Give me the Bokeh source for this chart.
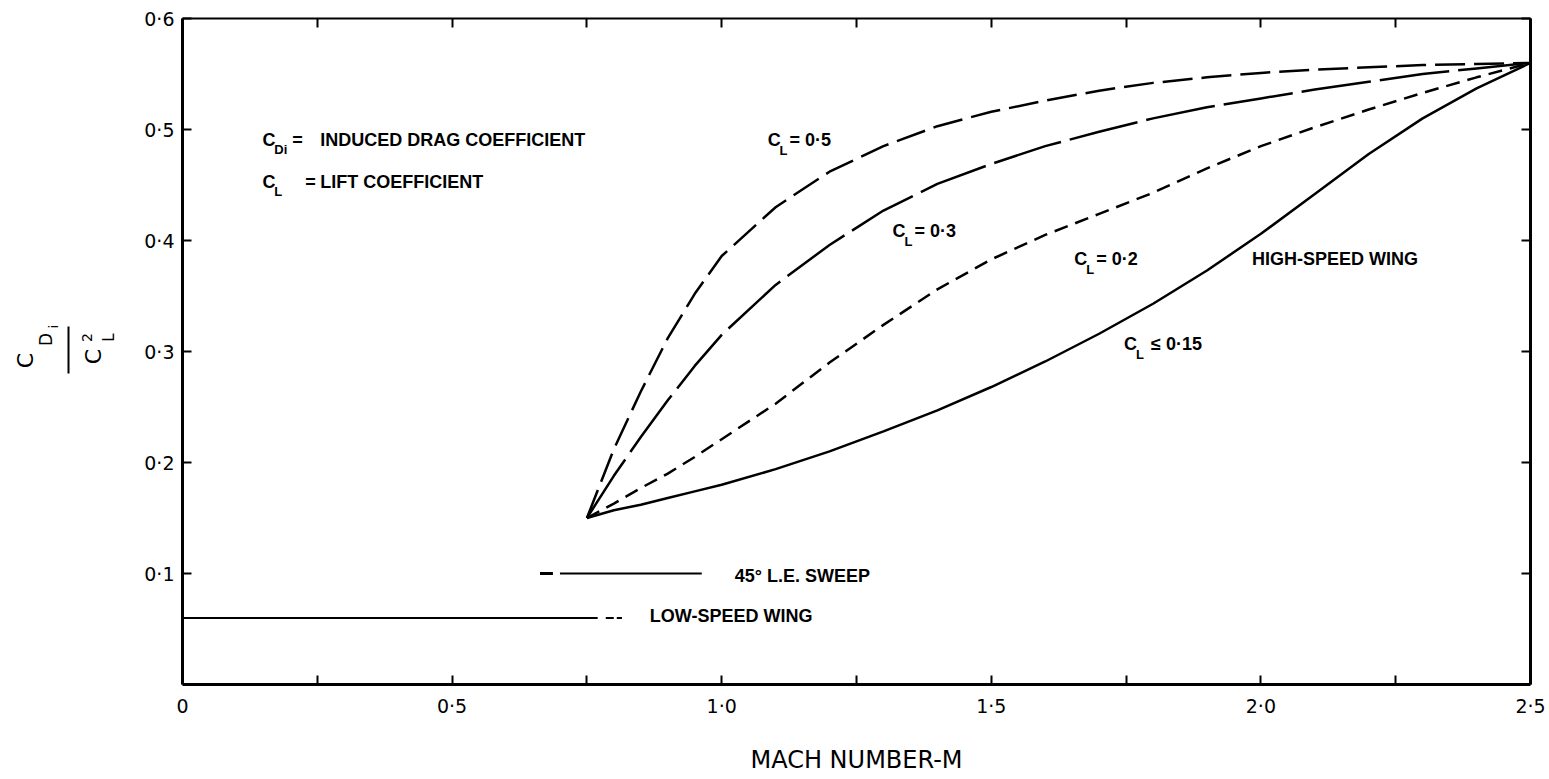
from bokeh.plotting import figure
from bokeh.layouts import row
from bokeh.models import Range1d, LinearAxis, FixedTicker, Label
from bokeh.core.properties import value
from bokeh.embed import file_html
from bokeh.resources import INLINE

# ---- data ----
mach = [0.75, 0.8, 0.85, 0.9, 0.95, 1.0, 1.1, 1.2, 1.3, 1.4, 1.5, 1.6, 1.7,
        1.8, 1.9, 2.0, 2.1, 2.2, 2.3, 2.4, 2.5]
cl_05 = [0.15, 0.212, 0.264, 0.312, 0.352, 0.386, 0.43, 0.462, 0.485, 0.503, 0.516,
         0.526, 0.535, 0.542, 0.547, 0.551, 0.554, 0.556, 0.558, 0.559, 0.56]
cl_03 = [0.15, 0.188, 0.223, 0.256, 0.287, 0.315, 0.36, 0.396, 0.427, 0.451, 0.469,
         0.485, 0.498, 0.51, 0.52, 0.528, 0.536, 0.543, 0.55, 0.555, 0.56]
cl_02 = [0.15, 0.163, 0.177, 0.19, 0.205, 0.221, 0.253, 0.29, 0.324, 0.356, 0.383,
         0.405, 0.424, 0.443, 0.465, 0.485, 0.502, 0.518, 0.533, 0.547, 0.56]
cl_015 = [0.15, 0.157, 0.162, 0.168, 0.174, 0.18, 0.194, 0.21, 0.228, 0.247, 0.268,
          0.291, 0.316, 0.343, 0.373, 0.406, 0.442, 0.478, 0.51, 0.537, 0.56]

low_speed_m = [0.0, 0.77]
low_speed_tail_m = [0.785, 0.815]
low_speed_val = [0.06, 0.06]
sweep_m = [0.70, 0.963]
sweep_lead_m = [0.663, 0.687]
sweep_val = [0.1, 0.1]

x_major = [0, 0.5, 1.0, 1.5, 2.0, 2.5]
x_minor = [0.25, 0.75, 1.25, 1.75, 2.25]
x_tick_labels = ["0", "0·5", "1·0", "1·5", "2·0", "2·5"]
y_ticks = [0.1, 0.2, 0.3, 0.4, 0.5, 0.6]
y_tick_labels = ["0·1", "0·2", "0·3", "0·4", "0·5", "0·6"]

TICKFONT = "DejaVu Sans"
TF = "Liberation Sans"

# ---- main figure ----
p = figure(width=1419, height=779, x_range=Range1d(0, 2.5), y_range=Range1d(0, 0.6),
           output_backend="svg", toolbar_location=None,
           min_border_left=52, min_border_right=19, min_border_top=18, min_border_bottom=95)
p.xgrid.visible = False
p.ygrid.visible = False
p.outline_line_color = None

xa = p.xaxis[0]
xa.ticker = FixedTicker(ticks=x_major, minor_ticks=x_minor)
xa.major_label_overrides = {t: s for t, s in zip(x_major, x_tick_labels)}
xa.major_tick_in = 9
xa.major_tick_out = 0
xa.minor_tick_in = 9
xa.minor_tick_out = 0
xa.axis_line_width = 3
xa.major_tick_line_width = 2
xa.minor_tick_line_width = 2
xa.major_label_text_font = TICKFONT
xa.major_label_text_font_size = "19px"
xa.major_label_text_color = "black"
xa.major_label_standoff = 10
xa.axis_label = "MACH NUMBER-M"
xa.axis_label_text_font = TICKFONT
xa.axis_label_text_font_size = "24px"
xa.axis_label_text_font_style = "normal"
xa.axis_label_text_color = "black"
xa.axis_label_standoff = 26

ya = p.yaxis[0]
ya.ticker = FixedTicker(ticks=y_ticks)
ya.major_label_overrides = {t: s for t, s in zip(y_ticks, y_tick_labels)}
ya.major_tick_in = 9
ya.major_tick_out = 0
ya.minor_tick_line_color = None
ya.axis_line_width = 3
ya.major_tick_line_width = 2
ya.major_label_text_font = TICKFONT
ya.major_label_text_font_size = "19px"
ya.major_label_text_color = "black"
ya.major_label_standoff = 8

top = LinearAxis(ticker=FixedTicker(ticks=[], minor_ticks=x_minor + x_major),
                 minor_tick_in=9, minor_tick_out=0, major_tick_in=0, major_tick_out=0,
                 axis_line_width=2, minor_tick_line_width=2)
right = LinearAxis(ticker=FixedTicker(ticks=[], minor_ticks=y_ticks),
                   minor_tick_in=9, minor_tick_out=0, major_tick_in=0, major_tick_out=0,
                   axis_line_width=3, minor_tick_line_width=2)
p.add_layout(top, "above")
p.add_layout(right, "right")

# ---- curves ----
p.line(mach, cl_05, line_color="black", line_width=2.5, line_dash="30 9")
p.line(mach, cl_03, line_color="black", line_width=2.5, line_dash="70 9")
p.line(mach, cl_02, line_color="black", line_width=2.5, line_dash="14 8")
p.line(mach, cl_015, line_color="black", line_width=2.5)

p.line(low_speed_m, low_speed_val, line_color="black", line_width=2)
p.line(low_speed_tail_m, low_speed_val, line_color="black", line_width=2, line_dash="8 3")
p.line(sweep_m, sweep_val, line_color="black", line_width=2)
p.line(sweep_lead_m, sweep_val, line_color="black", line_width=3)


def X(px):
    return (px - 182) / 540


def Y(py):
    return (684 - py) / 1110


def lab(text, px, py, size=18, align="left", baseline="middle", font=TF, style="bold"):
    p.add_layout(Label(x=X(px), y=Y(py), text=text, text_font=font, text_font_size=f"{size}px",
                       text_font_style=style, text_align=align, text_baseline=baseline,
                       text_color="black"))


# notes
lab("C", 262, 139)
lab("Di", 274, 149, 13)
lab("=", 292, 139)
lab("INDUCED DRAG COEFFICIENT", 320, 139)
lab("C", 262, 181)
lab("L", 274, 191, 13)
lab("=", 305, 181)
lab("LIFT COEFFICIENT", 320, 181)

# curve labels
lab("C", 768, 139)
lab("L", 780, 150, 13)
lab("= 0·5", 790, 139)
lab("C", 893, 230)
lab("L", 905, 241, 13)
lab("= 0·3", 915, 230)
lab("C", 1075, 258)
lab("L", 1087, 269, 13)
lab("= 0·2", 1097, 258)
lab("C", 1125, 343)
lab("L", 1137, 354, 13)
lab("≤ 0·15", 1152, 343)
lab("HIGH-SPEED WING", 1253, 258)
lab("45° L.E. SWEEP", 735, 575)
lab("LOW-SPEED WING", 650, 615)

# ---- left strip carrying the y-axis title (fraction, rotated) ----
# its frame is aligned with the main frame (page y 18..684), so map page pixels onto it
q = figure(width=130, height=779, x_range=Range1d(0, 130), y_range=Range1d(779 - 684, 779 - 18),
           output_backend="svg", toolbar_location=None,
           min_border_left=0, min_border_right=0, min_border_top=0, min_border_bottom=0,
           x_axis_type=None, y_axis_type=None)
q.xgrid.visible = False
q.ygrid.visible = False
q.outline_line_color = None

ypart_text = ["C", "D", "i", "C", "2", "L"]
ypart_px = [25, 45, 53, 93, 86, 108]
ypart_py = [360, 339, 326, 356, 337, 337]
ypart_size = ["22px", "17px", "12px", "22px", "14px", "15px"]

q.text(x=ypart_px, y=[779 - v for v in ypart_py], text=ypart_text, angle=90,
       angle_units="deg", text_font=value(TICKFONT), text_font_size=ypart_size,
       text_align="center", text_baseline="middle", text_color="black")
# fraction bar
q.line(x=[68, 68], y=[779 - 326, 779 - 373], line_color="black", line_width=2)

layout = row(q, p)
open("out.html", "w").write(file_html(layout, INLINE))
